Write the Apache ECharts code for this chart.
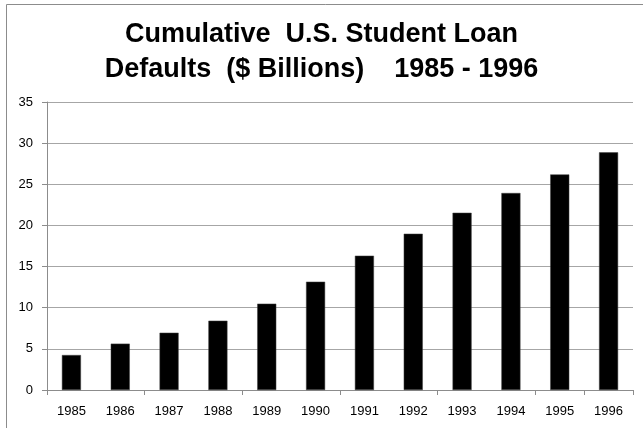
<!DOCTYPE html>
<html>
<head>
<meta charset="utf-8">
<script src="https://cdn.jsdelivr.net/npm/echarts@6/dist/echarts.min.js"></script>
<style>
  html, body { margin: 0; padding: 0; background: #fff; }
  #chart { width: 643px; height: 428px; }
</style>
</head>
<body>
<div id="chart"></div>
<script>
// Cumulative defaults by year, in billions of dollars
const years = ['1985', '1986', '1987', '1988', '1989', '1990',
               '1991', '1992', '1993', '1994', '1995', '1996'];
const defaults = [4.25, 5.63, 6.96, 8.42, 10.49, 13.16,
                  16.32, 18.99, 21.54, 23.94, 26.2, 28.88];
const yTicks = [0, 5, 10, 15, 20, 25, 30, 35];

const chart = echarts.init(document.getElementById('chart'), null, { renderer: 'canvas' });

const labelFont = { color: '#000', fontFamily: 'Liberation Sans, Arial, sans-serif', fontSize: 13 };

chart.setOption({
  animation: false,
  backgroundColor: '#fff',
  title: {
    text: 'Cumulative  U.S. Student Loan\nDefaults  ($ Billions)    1985 - 1996',
    left: 'center',
    top: 12,
    textStyle: {
      fontFamily: 'Liberation Sans, Arial, sans-serif',
      fontWeight: 'bold',
      fontSize: 27,
      lineHeight: 35,
      color: '#000'
    }
  },
  graphic: [{
    type: 'rect',
    shape: { x: 6.5, y: 4.5, width: 700, height: 500 },
    style: { fill: 'none', stroke: '#8c8c8c', lineWidth: 1 },
    silent: true
  }],
  grid: { left: 47, right: 10, top: 102, bottom: 38 },
  xAxis: {
    type: 'category',
    data: years,
    axisLine: { lineStyle: { color: '#8c8c8c', width: 1 } },
    axisTick: { show: true, interval: 1, length: 5, lineStyle: { color: '#8c8c8c' } },
    axisLabel: Object.assign({ interval: 0, margin: 15 }, labelFont),
    splitLine: { show: false }
  },
  yAxis: {
    type: 'value',
    min: yTicks[0],
    max: yTicks[yTicks.length - 1],
    interval: 5,
    axisLine: { show: true, lineStyle: { color: '#8c8c8c', width: 1 } },
    axisTick: { show: true, length: 5, lineStyle: { color: '#8c8c8c' } },
    axisLabel: Object.assign({ margin: 14 }, labelFont),
    splitLine: { show: true, lineStyle: { color: '#a6a6a6', width: 1 } }
  },
  series: [{
    type: 'bar',
    data: defaults,
    barWidth: '39%',
    itemStyle: { color: '#000', borderColor: '#404040', borderWidth: 0.5 }
  }]
});
</script>
</body>
</html>
